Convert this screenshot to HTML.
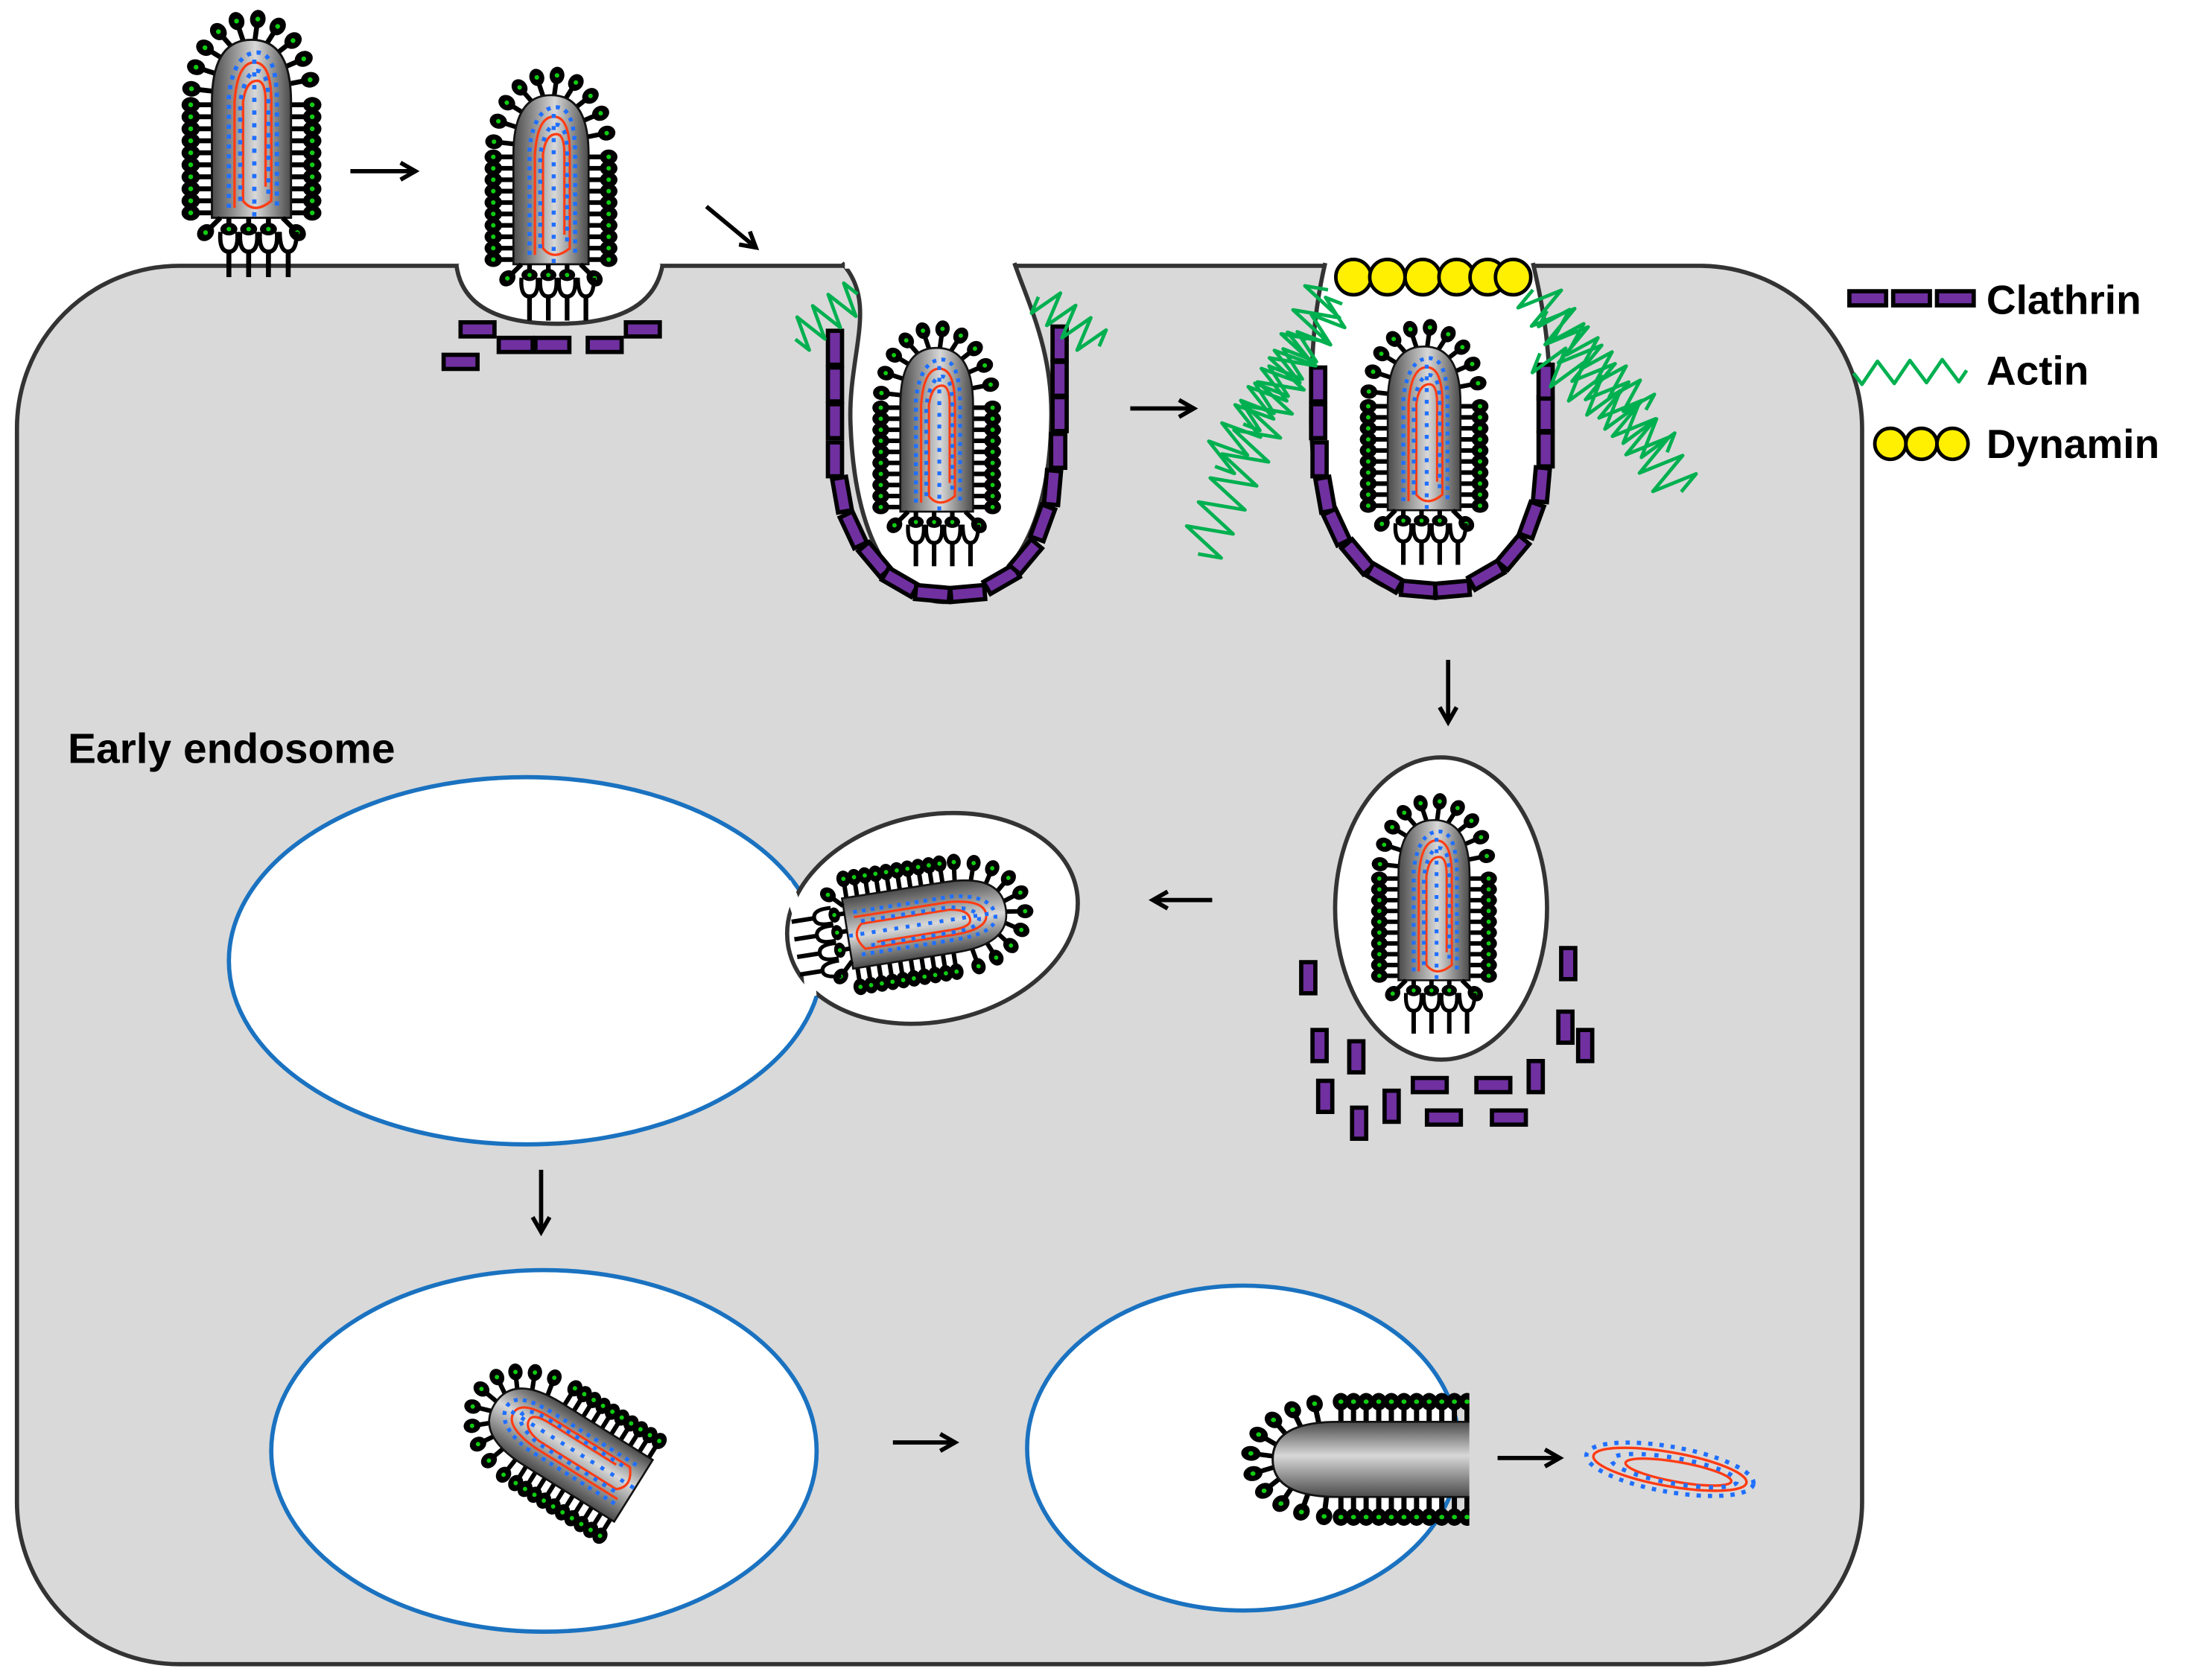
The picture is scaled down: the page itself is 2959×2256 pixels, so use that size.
<!DOCTYPE html>
<html><head><meta charset="utf-8"><style>
html,body{margin:0;padding:0;background:#fff}
svg{display:block}
text{font-family:"Liberation Sans",Arial,sans-serif;font-weight:bold;fill:#000}
</style></head><body>
<svg id="s" width="2959" height="2256" viewBox="0 0 1560 1189" xmlns="http://www.w3.org/2000/svg">
<defs>
<linearGradient id="bg" x1="0" x2="1" y1="0" y2="0">
<stop offset="0" stop-color="#4a4a4a"/><stop offset="0.55" stop-color="#d8d8d8"/><stop offset="1" stop-color="#4a4a4a"/>
</linearGradient>
<marker id="ah" viewBox="0 0 10 10" refX="8" refY="5" markerWidth="5" markerHeight="5" orient="auto"><path d="M1,1 L8,5 L1,9" fill="none" stroke="#000" stroke-width="2"/></marker>
<g id="vbody"></g>
<g id="vrec"></g>
</defs>
<rect x="12" y="188" width="1306" height="990" rx="115" fill="#d9d9d9" stroke="#333" stroke-width="3"/>
<path d="M323,187 Q328,229 395,229 Q462,229 469,187" fill="#fff" stroke="#333" stroke-width="3"/>
<rect x="325" y="180" width="142" height="10" fill="#fff"/>
<path d="M596,186 C622,215 600,250 602,300 C605,392 640,426 668,426 C700,426 742,392 744,300 C746,250 728,215 718,186" fill="#fff" stroke="#333" stroke-width="3"/>
<rect x="598" y="178" width="118" height="12" fill="#fff"/>
<path d="M938,186 C930,220 928,250 928,300 C930,390 970,422 1012,422 C1055,422 1095,390 1097,300 C1098,250 1093,220 1085,186" fill="#fff" stroke="#333" stroke-width="3"/>
<rect x="940" y="178" width="143" height="12" fill="#fff"/>
<g id="dyn"></g>
<g id="clath"></g>
<g id="actin" fill="none" stroke="#00b050" stroke-width="2.5"></g>
<ellipse cx="372" cy="680" rx="210" ry="130" fill="#fff" stroke="#1a72c0" stroke-width="3"/>
<ellipse cx="660" cy="650" rx="104" ry="73" transform="rotate(-12 660 650)" fill="#fff" stroke="#333" stroke-width="3"/>
<path d="M556,625 Q570,650 574,705" stroke="#fff" stroke-width="8" fill="none"/>
<ellipse cx="385" cy="1027" rx="193" ry="128" fill="#fff" stroke="#1a72c0" stroke-width="3"/>
<ellipse cx="880" cy="1025" rx="153" ry="115" fill="#fff" stroke="#1a72c0" stroke-width="3"/>
<ellipse cx="1020" cy="643" rx="75" ry="107" fill="#fff" stroke="#333" stroke-width="3"/>
<g id="vir"></g>
<g stroke="#000" stroke-width="3" fill="none" marker-end="url(#ah)">
<line x1="248" y1="121" x2="294" y2="121"/>
<line x1="500" y1="146" x2="535" y2="175"/>
<line x1="800" y1="289" x2="845" y2="289"/>
<line x1="1025" y1="467" x2="1025" y2="511"/>
<line x1="858" y1="637" x2="816" y2="637"/>
<line x1="383" y1="828" x2="383" y2="872"/>
<line x1="632" y1="1021" x2="676" y2="1021"/>
<line x1="1060" y1="1032" x2="1104" y2="1032"/>
</g>
<text x="48" y="540" font-size="30">Early endosome</text>
<text x="1406" y="222" font-size="29">Clathrin</text>
<text x="1406" y="272" font-size="29">Actin</text>
<text x="1406" y="324" font-size="29">Dynamin</text>
</svg>
<script>
var NS="http://www.w3.org/2000/svg";
function el(p,t,a){var e=document.createElementNS(NS,t);for(var k in a)e.setAttribute(k,a[k]);p.appendChild(e);return e;}
var vb=document.getElementById('vbody');
function spike(g,x,y,nx,ny){
 var L=11;el(g,'line',{x1:x,y1:y,x2:x+nx*L,y2:y+ny*L,stroke:'#000','stroke-width':3.5});
 var ang=Math.atan2(ny,nx)*180/Math.PI;
 var cx=x+nx*(L+4),cy=y+ny*(L+4);
 el(g,'ellipse',{cx:cx,cy:cy,rx:6.5,ry:5.5,fill:'#000',transform:'rotate('+ang+' '+cx+' '+cy+')'});
 el(g,'circle',{cx:cx,cy:cy,r:1.7,fill:'#1c1'});
}
for(var y=-18;y<=60;y+=8.5){spike(vb,-28,y,-1,0);spike(vb,28,y,1,0);}
for(var t=-170;t<=-10;t+=17){var r=t*Math.PI/180;var x=28*Math.cos(r),yy=-20+44*Math.sin(r);var nx=Math.cos(r)/28,ny=Math.sin(r)/44;var n=Math.hypot(nx,ny);spike(vb,x,yy,nx/n,ny/n);}
el(vb,'path',{d:'M-28,62 L-28,-20 Q-28,-64 0,-64 Q28,-64 28,-20 L28,62 Z',fill:'url(#bg)',stroke:'#111','stroke-width':1.5});
el(vb,'path',{d:'M-12,55 L-12,-20 Q-10,-48 2,-48 Q14,-48 14,-20 L14,50 Q2,60 -6,50 L-6,-20 Q-4,-35 4,-35 Q10,-35 10,-20 L10,40',fill:'none',stroke:'#ff3c14','stroke-width':1.8});
el(vb,'path',{d:'M-16,55 L-16,-25 Q-12,-55 4,-55 Q18,-55 18,-20 L18,55',fill:'none',stroke:'#1f6fff','stroke-width':3,'stroke-dasharray':'3 4'});
el(vb,'path',{d:'M-8,50 L-8,-20 Q-4,-42 4,-42 Q12,-42 12,-20 L12,50',fill:'none',stroke:'#1f6fff','stroke-width':3,'stroke-dasharray':'3 5'});
el(vb,'line',{x1:2,y1:-50,x2:2,y2:62,stroke:'#1f6fff','stroke-width':3,'stroke-dasharray':'3 6'});
var vr=document.getElementById('vrec');
spike(vr,-22,62,-0.7,0.7);spike(vr,22,62,0.7,0.7);
[-16,-2,12].forEach(function(x){el(vr,'path',{d:'M'+(x-6)+',72 Q'+(x-7)+',86 '+x+',86 Q'+(x+7)+',86 '+(x+6)+',72',fill:'none',stroke:'#000','stroke-width':3});el(vr,'line',{x1:x,y1:62,x2:x,y2:74,stroke:'#000','stroke-width':3.5});el(vr,'ellipse',{cx:x,cy:70,rx:6,ry:4.5,fill:'#000'});el(vr,'circle',{cx:x,cy:70,r:1.6,fill:'#1c1'});el(vr,'line',{x1:x,y1:86,x2:x,y2:104,stroke:'#000','stroke-width':3.5});});
el(vr,'path',{d:'M20,72 Q20,86 26,86 Q32,86 32,72',fill:'none',stroke:'#000','stroke-width':3});
el(vr,'line',{x1:26,y1:86,x2:26,y2:104,stroke:'#000','stroke-width':3.5});
var V=document.getElementById('vir');
function vir(x,y,rot,s,rec){var g=el(V,'g',{transform:'translate('+x+' '+y+') rotate('+rot+') scale('+s+')'});el(g,'use',{href:'#vbody'});if(rec)el(g,'use',{href:'#vrec'});return g;}
vir(178,92,0,1,true);
vir(390,128,0,0.95,true);
vir(663,305,0,0.92,true);
vir(1008,304,0,0.92,true);
vir(1015,638,0,0.9,true);
vir(655,652,81,0.9,true);
vir(400,1025,-58,0.92,false);
var cp=el(document.querySelector('defs'),'clipPath',{id:'cp'});el(cp,'rect',{x:0,y:0,width:1040,height:1189});
var hg=el(V,'g',{'clip-path':'url(#cp)'});
var g2=el(hg,'g',{transform:'translate(968 1033) rotate(-90) scale(0.95 1.05)'});
var hb=el(g2,'g',{});
for(var y=-18;y<=70;y+=8.5){spike(hb,-28,y,-1,0);spike(hb,28,y,1,0);}
for(var t=-170;t<=-10;t+=17){var r=t*Math.PI/180;var x=28*Math.cos(r),yy=-20+44*Math.sin(r);var nx=Math.cos(r)/28,ny=Math.sin(r)/44;var n=Math.hypot(nx,ny);spike(hb,x,yy,nx/n,ny/n);}
el(hb,'path',{d:'M-28,80 L-28,-20 Q-28,-64 0,-64 Q28,-64 28,-20 L28,80 Z',fill:'url(#bg)',stroke:'#111','stroke-width':1.5});
el(V,'ellipse',{cx:1182,cy:1040,rx:55,ry:12,transform:'rotate(10 1182 1040)',fill:'none',stroke:'#ff3c14','stroke-width':1.8});
el(V,'ellipse',{cx:1188,cy:1042,rx:38,ry:7,transform:'rotate(10 1188 1042)',fill:'none',stroke:'#ff3c14','stroke-width':1.8});
el(V,'ellipse',{cx:1182,cy:1040,rx:60,ry:16,transform:'rotate(10 1182 1040)',fill:'none',stroke:'#1f6fff','stroke-width':3,'stroke-dasharray':'3 5'});
el(V,'ellipse',{cx:1185,cy:1041,rx:45,ry:9,transform:'rotate(10 1185 1041)',fill:'none',stroke:'#1f6fff','stroke-width':3,'stroke-dasharray':'3 6'});
var D=document.getElementById('dyn');
[958,982,1007,1031,1053,1071].forEach(function(x){el(D,'circle',{cx:x,cy:196,r:12.5,fill:'#ffef00',stroke:'#000','stroke-width':2.5});});
[1338,1360,1382].forEach(function(x){el(D,'circle',{cx:x,cy:314,r:11,fill:'#ffef00',stroke:'#000','stroke-width':2.5});});
var C=document.getElementById('clath');
function cl(x,y,rot,w,h){w=w||24;h=h||10;el(C,'rect',{x:x-w/2,y:y-h/2,width:w,height:h,fill:'#7030a0',stroke:'#000','stroke-width':3,transform:'rotate('+rot+' '+x+' '+y+')'});}
[[1322,211],[1353,211],[1384,211]].forEach(function(p){cl(p[0],p[1],0,26,10);});
[[338,233],[365,244],[391,244],[428,244],[455,233],[326,256]].forEach(function(p){cl(p[0],p[1],0,24,10);});
function ring(pts){pts.forEach(function(p){cl(p[0],p[1],p[2],10,24);});}
ring([[591,246,0],[591,272,0],[591,298,0],[591,325,0],[596,350,-10],[604,375,-25],[619,396,-40],[637,412,-60],[660,420,-85],[685,420,-95],[709,410,-120],[726,394,-140],[738,370,-160],[745,345,-175],[749,319,0],[750,293,0],[750,268,0],[750,243,0]]);
ring([[933,272,0],[933,298,0],[934,325,0],[938,350,-10],[946,373,-25],[961,394,-40],[980,409,-60],[1004,417,-85],[1028,417,-95],[1052,407,-120],[1071,391,-140],[1084,368,-160],[1091,343,-175],[1094,318,0],[1094,293,0],[1094,270,0]]);
[[926,692],[934,740],[960,748],[938,776],[962,795],[985,783],[1110,682],[1108,727],[1122,740],[1087,762]].forEach(function(p){cl(p[0],p[1],0,10,22);});
[[1012,768],[1057,768],[1022,791],[1068,791]].forEach(function(p){cl(p[0],p[1],0,24,10);});
var A=document.getElementById('actin');
function zz(x1,y1,x2,y2,n,amp){var d='M'+x1+','+y1;var dx=(x2-x1)/n,dy=(y2-y1)/n;var L=Math.hypot(x2-x1,y2-y1);var px=-(y2-y1)/L,py=(x2-x1)/L;for(var i=1;i<=n;i++){var s=(i%2?1:-1)*amp;var cx=x1+dx*(i-0.5)+px*s,cy=y1+dy*(i-0.5)+py*s;d+=' L'+cx.toFixed(1)+','+cy.toFixed(1);}d+=' L'+x2+','+y2;el(A,'path',{d:d,'stroke-linejoin':'round'});}
zz(563,240,607,208,8,12);zz(735,210,778,245,8,12);
zz(1312,264,1392,262,7,8);
zz(848,392,940,205,22,16);zz(860,330,925,240,14,14);zz(880,300,950,215,14,12);
zz(1085,205,1190,348,22,16);zz(1090,250,1180,320,14,14);zz(1095,220,1165,290,14,12);
</script>
</body></html>
